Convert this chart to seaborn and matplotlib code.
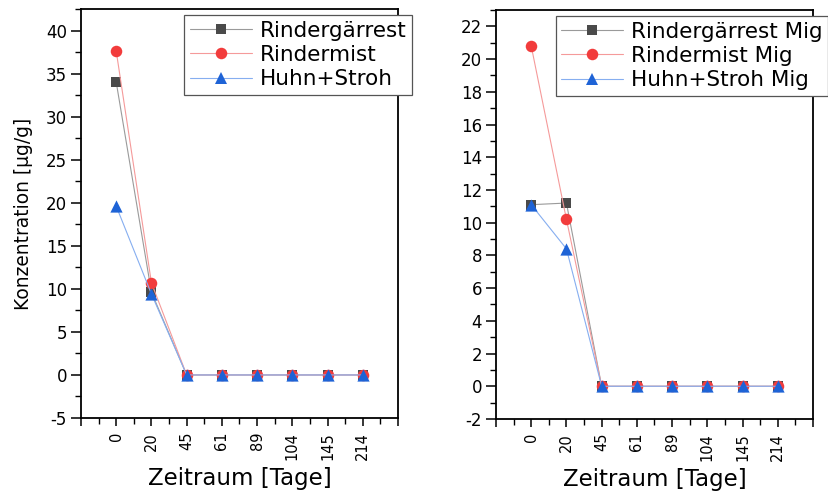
import matplotlib
matplotlib.use("Agg")
import matplotlib.pyplot as plt
from matplotlib.lines import Line2D
from matplotlib.ticker import MultipleLocator
import seaborn as sns
import pandas as pd

# ---------------- data ----------------
days = ["0", "20", "45", "61", "89", "104", "145", "214"]

left_names = ["Rindergärrest", "Rindermist", "Huhn+Stroh"]
left_rg = [34.0, 9.6, 0, 0, 0, 0, 0, 0]
left_rm = [37.6, 10.7, 0, 0, 0, 0, 0, 0]
left_hs = [19.6, 9.4, 0, 0, 0, 0, 0, 0]

right_names = ["Rindergärrest Mig", "Rindermist Mig", "Huhn+Stroh Mig"]
right_rg = [11.1, 11.2, 0, 0, 0, 0, 0, 0]
right_rm = [20.8, 10.2, 0, 0, 0, 0, 0, 0]
right_hs = [11.1, 8.4, 0, 0, 0, 0, 0, 0]

xlabel = "Zeitraum [Tage]"
ylabel = "Konzentration [µg/g]"

# ---------------- style ----------------
sns.set_theme(style="ticks")
plt.rcParams["font.family"] = ["DejaVu Sans"]
plt.rcParams["axes.unicode_minus"] = False
for k in ["text.color", "axes.labelcolor", "xtick.color", "ytick.color", "axes.edgecolor"]:
    plt.rcParams[k] = "black"

marker_cols = ["#4a4a4a", "#f23c3c", "#1e63d6"]
line_cols = ["#9a9a9a", "#f59a9a", "#86aef0"]
markers = ["s", "o", "^"]
msizes = [6.5, 8.3, 8.8]

fig = plt.figure(figsize=(8.29, 4.95), dpi=100)
axL = fig.add_axes([81 / 829, 77 / 495, 317 / 829, 409 / 495])
axR = fig.add_axes([496 / 829, 76 / 495, 317 / 829, 409 / 495])


def draw(ax, names, series, ylim, major, minor, show_ylabel, leg_anchor):
    for i, (name, vals) in enumerate(zip(names, series)):
        df = pd.DataFrame({"Zeitraum": days, "Wert": vals})
        sns.lineplot(data=df, x="Zeitraum", y="Wert", ax=ax, color=line_cols[i],
                     linewidth=0.8, sort=False, zorder=2 + 2 * i)
        sns.scatterplot(data=df, x="Zeitraum", y="Wert", ax=ax, color=marker_cols[i],
                        marker=markers[i], s=msizes[i] ** 2, linewidth=0,
                        zorder=3 + 2 * i)
    ax.set_xlim(-1, len(days))
    ax.set_ylim(*ylim)
    ax.set_xticks(range(-1, len(days) + 1))
    ax.set_xticklabels([""] + days + [""], rotation=90, fontsize=10.5)
    ax.xaxis.set_minor_locator(MultipleLocator(0.5))
    ax.yaxis.set_major_locator(MultipleLocator(major))
    ax.yaxis.set_minor_locator(MultipleLocator(minor))
    ax.tick_params(axis="y", labelsize=12, length=7, width=1.1, direction="out", pad=3)
    ax.tick_params(axis="x", length=6, width=1.1, direction="out", pad=4)
    ax.tick_params(which="minor", length=4, width=1.0, direction="out")
    for sp in ax.spines.values():
        sp.set_visible(True)
        sp.set_linewidth(1.3)
        sp.set_color("black")
    ax.set_xlabel(xlabel, fontsize=16.5, labelpad=5)
    if show_ylabel:
        ax.set_ylabel(ylabel, fontsize=13.4, labelpad=9)
    else:
        ax.set_ylabel("")
    handles = [Line2D([0], [0], color=line_cols[i], lw=0.8, marker=markers[i],
                      markersize=msizes[i], markerfacecolor=marker_cols[i],
                      markeredgewidth=0) for i in range(3)]
    leg = ax.legend(handles, names, loc="upper right", bbox_to_anchor=leg_anchor,
                    fontsize=15.5, frameon=True, fancybox=False, edgecolor="#555555",
                    framealpha=1, borderaxespad=0, handlelength=2.9,
                    handletextpad=0.35, labelspacing=0.2, borderpad=0.25)
    leg.get_frame().set_linewidth(0.9)
    leg.set_zorder(20)


draw(axL, left_names, [left_rg, left_rm, left_hs], (-5, 42.5), 5, 2.5, True,
     (1.044, 0.985))
draw(axR, right_names, [right_rg, right_rm, right_hs], (-2, 23), 2, 1, False,
     (1.047, 0.985))

fig.savefig("out.png", dpi=100)
